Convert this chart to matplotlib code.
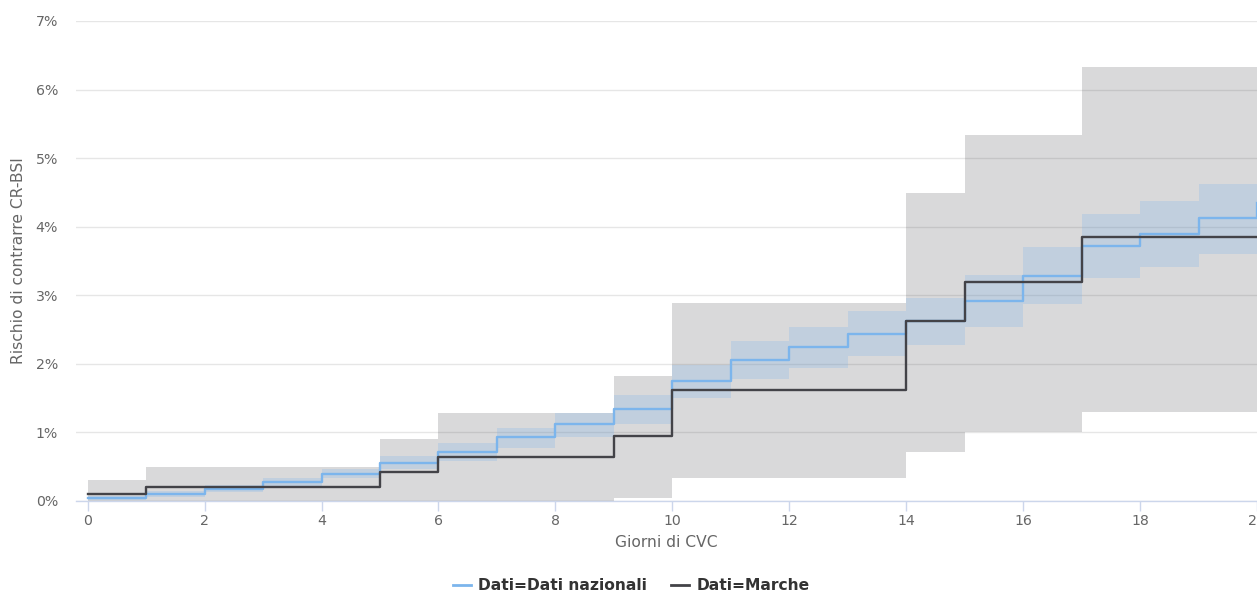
import matplotlib
matplotlib.use("Agg")
import matplotlib.pyplot as plt
from matplotlib.lines import Line2D
from matplotlib.ticker import FuncFormatter, MultipleLocator

plt.rcParams['font.family'] = ['DejaVu Sans']

days = list(range(0, 21))

# Dati nazionali (%)
naz = [0.05, 0.10, 0.18, 0.27, 0.39, 0.55, 0.71, 0.93, 1.13, 1.34, 1.75,
       2.06, 2.24, 2.44, 2.62, 2.92, 3.28, 3.72, 3.90, 4.12, 4.34]
naz_low = [0.02, 0.06, 0.13, 0.21, 0.33, 0.46, 0.59, 0.77, 0.94, 1.13, 1.50,
           1.78, 1.94, 2.12, 2.28, 2.54, 2.87, 3.25, 3.41, 3.60, 3.80]
naz_high = [0.08, 0.15, 0.23, 0.33, 0.47, 0.65, 0.85, 1.07, 1.29, 1.54, 1.99,
            2.34, 2.54, 2.77, 2.96, 3.29, 3.70, 4.18, 4.37, 4.63, 4.87]

# Marche (%)
mar = [0.10, 0.21, 0.21, 0.21, 0.21, 0.42, 0.64, 0.64, 0.64, 0.95, 1.62,
       1.62, 1.62, 1.62, 2.63, 3.19, 3.19, 3.85, 3.85, 3.85, 3.85]
mar_low = [0, 0, 0, 0, 0, 0, 0, 0, 0, 0.05, 0.33,
           0.33, 0.33, 0.33, 0.72, 1.00, 1.00, 1.30, 1.30, 1.30, 1.30]
mar_high = [0.30, 0.49, 0.49, 0.49, 0.49, 0.90, 1.29, 1.29, 1.29, 1.83, 2.89,
            2.89, 2.89, 2.89, 4.49, 5.34, 5.34, 6.33, 6.33, 6.33, 6.33]

x_ticks = list(range(0, 21, 2))
legend_labels = ["Dati=Dati nazionali", "Dati=Marche"]

BLUE = "#7cb5ec"
DARK = "#434348"

W, H = 1257, 594
fig = plt.figure(figsize=(W / 100, H / 100), dpi=100)
ax = fig.add_axes([76 / W, 1 - 501 / H, (W - 76) / W, (501 - 21) / H])

ax.fill_between(days, mar_low, mar_high, step='post', color=DARK, alpha=0.2,
                linewidth=0, zorder=2)
ax.fill_between(days, naz_low, naz_high, step='post', color=BLUE, alpha=0.25,
                linewidth=0, zorder=3)
ax.step(days, naz, where='post', color=BLUE, linewidth=1.7, zorder=4)
ax.step(days, mar, where='post', color=DARK, linewidth=1.7, zorder=5)

ax.set_xlim(-0.2, 20.0)
ax.set_ylim(0, 7)
ax.yaxis.set_major_locator(MultipleLocator(1))
ax.yaxis.set_major_formatter(FuncFormatter(lambda v, p: f"{int(round(v))}%"))
ax.set_xticks(x_ticks)

ax.grid(axis='y', color='#e6e6e6', linewidth=1, zorder=0)
ax.set_axisbelow(True)
for s in ['top', 'right', 'left']:
    ax.spines[s].set_visible(False)
ax.spines['bottom'].set_color('#ccd6eb')
ax.spines['bottom'].set_linewidth(1)
ax.spines['bottom'].set_zorder(1)

ax.tick_params(axis='x', length=7.2, width=1, color='#ccd6eb', labelsize=10.2,
               labelcolor='#666666', pad=2)
ax.tick_params(axis='y', length=0, labelsize=10.2, labelcolor='#666666', pad=13)

ax.set_xlabel("Giorni di CVC", fontsize=11.2, color='#666666', labelpad=5)
ax.set_ylabel("Rischio di contrarre CR-BSI", fontsize=11.2, color='#666666',
              labelpad=7)

handles = [Line2D([0], [0], color=BLUE, lw=2),
           Line2D([0], [0], color=DARK, lw=2)]
leg = fig.legend(handles, legend_labels, loc='center', bbox_to_anchor=(0.502, 1 - 586 / H),
                 ncol=2, frameon=False, handlelength=1.15, handletextpad=0.45,
                 columnspacing=1.6, prop={'weight': 'bold', 'size': 11.2})
for t in leg.get_texts():
    t.set_color('#333333')

fig.savefig("out.png", dpi=100)
